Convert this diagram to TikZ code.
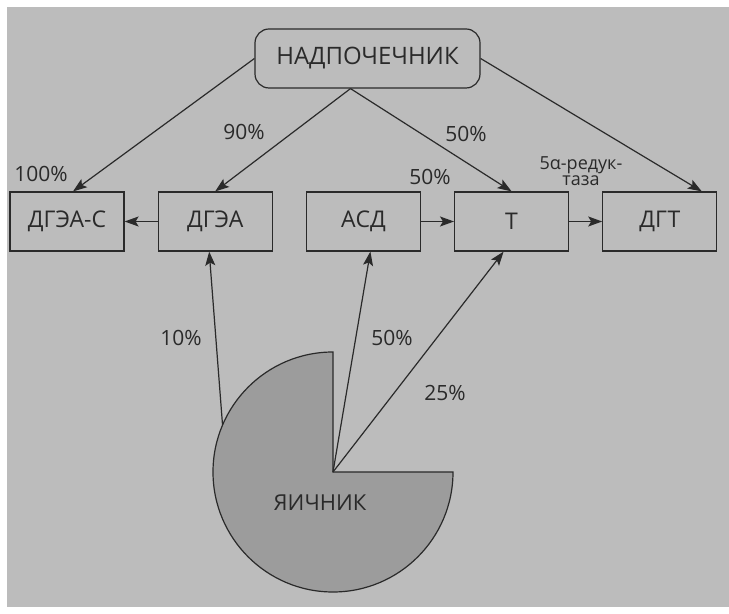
\documentclass[tikz,border=0pt]{standalone}
\usepackage{fontspec}
\setmainfont{Open Sans}
\usetikzlibrary{arrows.meta,positioning}
\definecolor{paper}{HTML}{BCBCBC}
\definecolor{gland}{HTML}{9C9C9C}
\definecolor{ink}{HTML}{2A2A2A}

\begin{document}
\begin{tikzpicture}[x=0.5pt,y=0.5pt,node distance=16.5pt,
  box/.style={draw=ink,line width=0.6pt,minimum width=57pt,minimum height=29.5pt,inner sep=0pt,font=\fontsize{11.5}{13}\selectfont,text=ink},
  pct/.style={font=\fontsize{10.5}{12}\selectfont,text=ink,inner sep=0pt},
  flow/.style={-{Stealth[length=7pt,width=5pt,inset=1.5pt]},draw=ink,line width=0.6pt}]
\useasboundingbox (0,0) rectangle (729,-614);
\fill[paper] (7,-7) rectangle (729,-607);
% ovary
\path[draw=ink,line width=0.6pt,fill=gland] (333,-472) -- ++(0,120) arc[start angle=90,end angle=360,radius=60pt] -- cycle;
\coordinate (ov) at (333,-472);
\path (ov) ++(157:60pt) coordinate (ovrim);
\node[pct,font=\fontsize{11}{13}\selectfont] (ovlbl) at (320,-503) {ЯИЧНИК};
% adrenal + products
\node[box,rounded corners=7pt,minimum width=112.5pt,font=\fontsize{12}{14}\selectfont] (adr) at (367.5,-58.5) {НАДПОЧЕЧНИК};
\node[box] (dheas) at (67,-221.5) {ДГЭА-С};
\node[box,right=of dheas] (dhea) {ДГЭА};
\node[box,right=of dhea] (asd) {АСД};
\node[box,right=of asd] (t) {Т};
\node[box,right=of t] (dgt) {ДГТ};
\draw[flow] (adr.west) -- ([xshift=3pt]dheas.north);
\draw[flow] (adr.east) -- ([xshift=21pt]dgt.north);
\draw[flow] ([xshift=-8.5pt]adr.south) -- (dhea.north);
\draw[flow] ([xshift=-8.5pt]adr.south) -- (t.north);
\foreach \a/\b in {dhea/dheas,asd/t,t/dgt}{\draw[flow] (\a)--(\b);}
\draw[flow] (ovrim) -- ([xshift=-3pt]dhea.south);
\draw[flow] (ov) -- ([xshift=3.5pt]asd.south);
\draw[flow] (ov) -- ([xshift=-4pt]t.south);
% percentages
\node[pct] (p100) at (41,-174) {100\%};
\node[pct] (p90) at (244,-132) {90\%};
\node[pct] (p50a) at (466,-134) {50\%};
\node[pct] (p50b) at (430,-177) {50\%};
\node[pct,font=\fontsize{9}{8}\selectfont,align=center] (red) at (581,-171) {5α-редук-\\таза};
\node[pct] (p10) at (181,-338) {10\%};
\node[pct] (p50c) at (392,-338) {50\%};
\node[pct] (p25) at (445,-393) {25\%};
\end{tikzpicture}
\end{document}
